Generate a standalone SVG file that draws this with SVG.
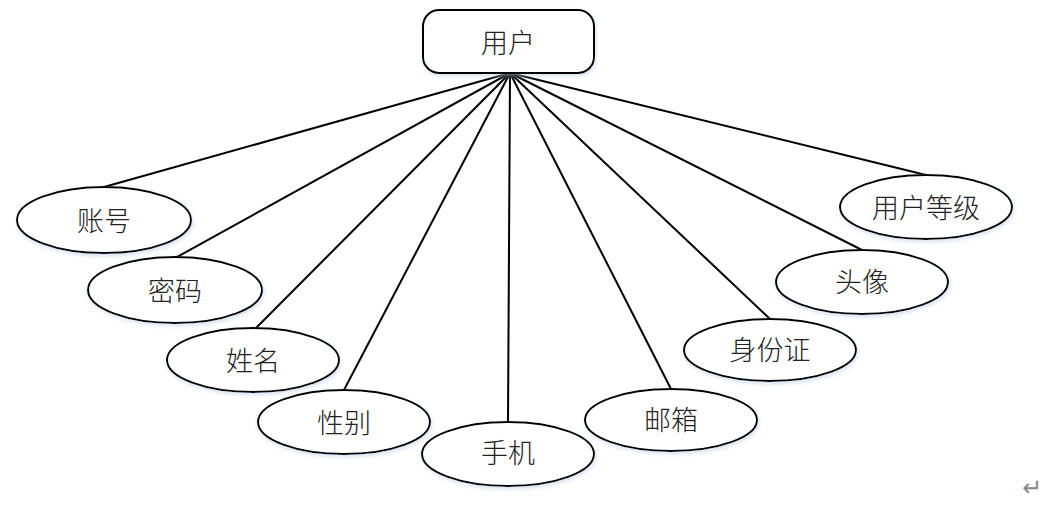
<svg xmlns="http://www.w3.org/2000/svg" width="1046" height="509" viewBox="0 0 1046 509">
<style>
.shape{fill:#fff;stroke:#000;stroke-width:2;filter:url(#glow)}
.lbl{font-family:"Noto Sans CJK SC","Noto Sans",sans-serif;font-size:27px;font-weight:300;fill:#222;text-anchor:middle;dominant-baseline:central}
.conn line{stroke:#000;stroke-width:2}
</style>
<defs>
<filter id="glow" x="-10%" y="-20%" width="120%" height="150%">
<feDropShadow dx="1" dy="2" stdDeviation="2" flood-color="#b8cce8" flood-opacity="0.6"/>
</filter>
</defs>
<rect width="1046" height="509" fill="#fff"/>
<g id="connectors" class="conn">
<line x1="510" y1="73" x2="104" y2="187"/>
<line x1="510" y1="73" x2="177" y2="257"/>
<line x1="510" y1="73" x2="256" y2="328"/>
<line x1="510" y1="73" x2="344" y2="390"/>
<line x1="510" y1="73" x2="508" y2="422"/>
<line x1="510" y1="73" x2="671" y2="389"/>
<line x1="510" y1="73" x2="770" y2="319"/>
<line x1="510" y1="73" x2="862" y2="250"/>
<line x1="510" y1="73" x2="926" y2="175"/>
</g>
<g id="user">
<rect class="shape" x="423" y="10" width="171" height="63" rx="16"/>
<text class="lbl" x="508" y="41">用户</text>
</g>
<g id="account">
<ellipse class="shape" cx="104" cy="220" rx="87" ry="33"/>
<text class="lbl" x="104" y="219">账号</text>
</g>
<g id="password">
<ellipse class="shape" cx="175" cy="290" rx="87" ry="33"/>
<text class="lbl" x="175" y="289">密码</text>
</g>
<g id="name">
<ellipse class="shape" cx="253" cy="360" rx="86" ry="32"/>
<text class="lbl" x="253" y="359">姓名</text>
</g>
<g id="gender">
<ellipse class="shape" cx="344" cy="422" rx="86" ry="32"/>
<text class="lbl" x="344" y="421">性别</text>
</g>
<g id="phone">
<ellipse class="shape" cx="508" cy="454" rx="86" ry="32"/>
<text class="lbl" x="508" y="451">手机</text>
</g>
<g id="email">
<ellipse class="shape" cx="671" cy="420" rx="86" ry="31"/>
<text class="lbl" x="671" y="418">邮箱</text>
</g>
<g id="idcard">
<ellipse class="shape" cx="770" cy="350" rx="86" ry="31"/>
<text class="lbl" x="770" y="348">身份证</text>
</g>
<g id="avatar">
<ellipse class="shape" cx="862" cy="282" rx="86" ry="32"/>
<text class="lbl" x="862" y="280">头像</text>
</g>
<g id="level">
<ellipse class="shape" cx="926" cy="207" rx="86" ry="32"/>
<text class="lbl" x="926" y="206">用户等级</text>
</g>
<text x="1032" y="496" font-family="DejaVu Sans,sans-serif" font-size="24" fill="#888" text-anchor="middle">↵</text>
</svg>
